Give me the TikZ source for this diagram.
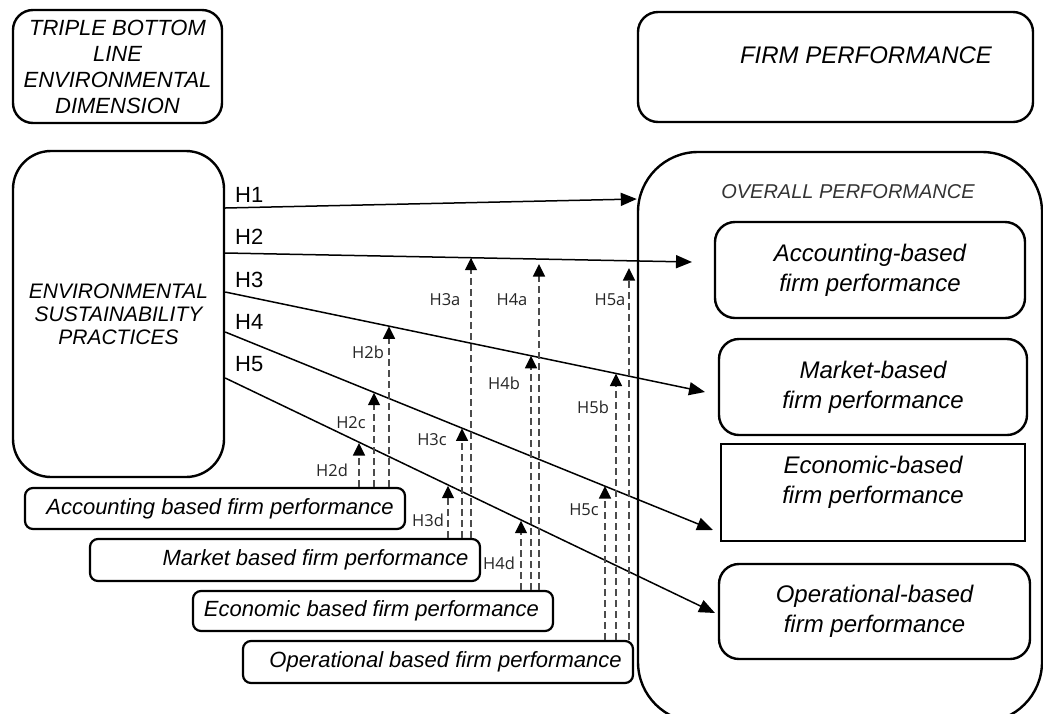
\documentclass[tikz,border=0pt]{standalone}
\usepackage{fontspec}
\setmainfont{Liberation Sans}
\newfontfamily\modfamily{Open Sans}
\usetikzlibrary{arrows.meta,calc}

% text styles
\newcommand\headfont{\fontsize{22}{26}\selectfont\itshape}
\newcommand\firmfont{\fontsize{24}{26}\selectfont\itshape}
\newcommand\espfont{\fontsize{21}{23}\selectfont\itshape}
\newcommand\overfont{\fontsize{20}{24}\selectfont\itshape}
\newcommand\dimfont{\fontsize{24}{30}\selectfont\itshape}
\newcommand\lowfont{\fontsize{22}{26}\selectfont\itshape}
\newcommand\hypfont{\fontsize{22}{26}\selectfont}
\newcommand\modfont{\modfamily\fontsize{16.5}{18}\selectfont}

\begin{document}
\begin{tikzpicture}[x=1pt,y=-1pt,
  boxline/.style={draw=black, line width=2.4pt, inner sep=0pt, align=center},
  rbox/.style={boxline, rounded corners=#1},
  rbox/.default=20pt,
  lowbox/.style={boxline, line width=2.2pt, rounded corners=8pt},
  lowtext/.style={font=\lowfont, inner sep=0pt},
  hyp/.style={-{Triangle[length=16pt,width=13pt]}, line width=1.5pt, black},
  mod/.style={-{Triangle[length=12.5pt,width=12pt,color=black]}, line width=1.5pt,
              black!70, dash pattern=on 7pt off 4pt},
  hlab/.style={font=\hypfont, anchor=base west, inner sep=0pt},
  mlab/.style={font=\modfont, text=black!85, inner sep=0pt},
]
\useasboundingbox (0,0) rectangle (1043,713);
\fill[white] (0,0) rectangle (1043,713);

% --- headings ---
\node[rbox, minimum width=209pt, minimum height=113pt, font=\headfont] (tbl)
  at (117.5,66.5) {TRIPLE BOTTOM\\LINE\\ENVIRONMENTAL\\DIMENSION};
\node[rbox, minimum width=395pt, minimum height=110pt] (fp) at (835.5,67) {};
\node[font=\firmfont, inner sep=0pt] (fptext) at (866,55) {FIRM PERFORMANCE};

% --- independent construct ---
\node[rbox=38pt, minimum width=211pt, minimum height=326pt, font=\espfont] (esp)
  at (118.5,314) {ENVIRONMENTAL\\SUSTAINABILITY\\PRACTICES};

% --- overall performance frame (runs past the lower edge) ---
\begin{scope}
  \clip (0,0) rectangle (1043,713);
  \node[rbox=60pt, minimum width=404pt, minimum height=570pt] (op) at (840,437) {};
\end{scope}
\node[font=\overfont, text=black!80, inner sep=0pt] (optext) at (848,192) {OVERALL PERFORMANCE};

% --- performance dimensions ---
\node[rbox, minimum width=310pt, minimum height=96pt, font=\dimfont] (accr)
  at (870,270) {Accounting-based\\firm performance};
\node[rbox, minimum width=308pt, minimum height=96pt, font=\dimfont] (mktr)
  at (873,387) {Market-based\\firm performance};
\node[boxline, minimum width=304pt, minimum height=97pt] (ecor) at (873,492.5) {};
\node[font=\dimfont, align=center, inner sep=0pt] (ecotext) at (873,482)
  {Economic-based\\firm performance};
\node[rbox, minimum width=311pt, minimum height=95pt, font=\dimfont] (oprr)
  at (874.5,611.5) {Operational-based\\firm performance};

% --- moderators ---
\node[lowbox, minimum width=380pt, minimum height=41pt] (accl) at (215,508.5) {};
\node[lowtext] (accltext) at (220,508.5) {Accounting based firm performance};
\node[lowbox, minimum width=390pt, minimum height=42pt] (mktl) at (285,560) {};
\node[lowtext] (mktltext) at (315.5,560) {Market based firm performance};
\node[lowbox, minimum width=360pt, minimum height=40pt] (ecol) at (373,611) {};
\node[lowtext] (ecoltext) at (371.5,611) {Economic based firm performance};
\node[lowbox, minimum width=390pt, minimum height=42pt] (oprl) at (438,662) {};
\node[lowtext] (oprltext) at (445.5,662) {Operational based firm performance};

% --- direct hypotheses ---
\coordinate (s1) at (0,208);
\coordinate (s2) at (0,253);
\coordinate (s3) at (0,292);
\coordinate (s4) at (0,332);
\coordinate (s5) at (0,378);
\coordinate (e1) at (0,199);
\coordinate (e2) at (692,262);
\coordinate (e3) at (705,392);
\coordinate (e4) at (713,530);
\coordinate (e5) at (715,613);
\draw[hyp] (esp.east |- s1) -- (op.west |- e1);
\draw[hyp] (esp.east |- s2) -- (e2);
\draw[hyp] (esp.east |- s3) -- (e3);
\draw[hyp] (esp.east |- s4) -- (e4);
\draw[hyp] (esp.east |- s5) -- (e5);
\node[hlab] (h1) at (235,202) {H1};
\node[hlab] (h2) at (235,244) {H2};
\node[hlab] (h3) at (235,287) {H3};
\node[hlab] (h4) at (235,329) {H4};
\node[hlab] (h5) at (235,371) {H5};

% --- moderating effects ---
\coordinate (t2d) at (359,443);
\coordinate (t2c) at (374,392.7);
\coordinate (t2b) at (389,326.3);
\coordinate (t3d) at (448,485.7);
\coordinate (t3c) at (462,428.4);
\coordinate (t3a) at (471,257.7);
\coordinate (t4d) at (521,520.7);
\coordinate (t4b) at (531,355.8);
\coordinate (t4a) at (539,264);
\coordinate (t5c) at (605,486.1);
\coordinate (t5b) at (616,373.5);
\coordinate (t5a) at (629,268);
\foreach \t in {t2d,t2c,t2b} \draw[mod] (accl.north -| \t) -- (\t);
\foreach \t in {t3d,t3c,t3a} \draw[mod] (mktl.north -| \t) -- (\t);
\foreach \t in {t4d,t4b,t4a} \draw[mod] (ecol.north -| \t) -- (\t);
\foreach \t in {t5c,t5b,t5a} \draw[mod] (oprl.north -| \t) -- (\t);

\node[mlab] (m2d) at (332,470) {H2d};
\node[mlab] (m2c) at (351,423) {H2c};
\node[mlab] (m2b) at (368,352) {H2b};
\node[mlab] (m3d) at (428,520) {H3d};
\node[mlab] (m3c) at (432,440) {H3c};
\node[mlab] (m3a) at (445,300) {H3a};
\node[mlab] (m4d) at (499,563) {H4d};
\node[mlab] (m4b) at (504,383) {H4b};
\node[mlab] (m4a) at (512,300) {H4a};
\node[mlab] (m5c) at (584,510) {H5c};
\node[mlab] (m5b) at (593,407) {H5b};
\node[mlab] (m5a) at (610,300) {H5a};
\end{tikzpicture}
\end{document}
